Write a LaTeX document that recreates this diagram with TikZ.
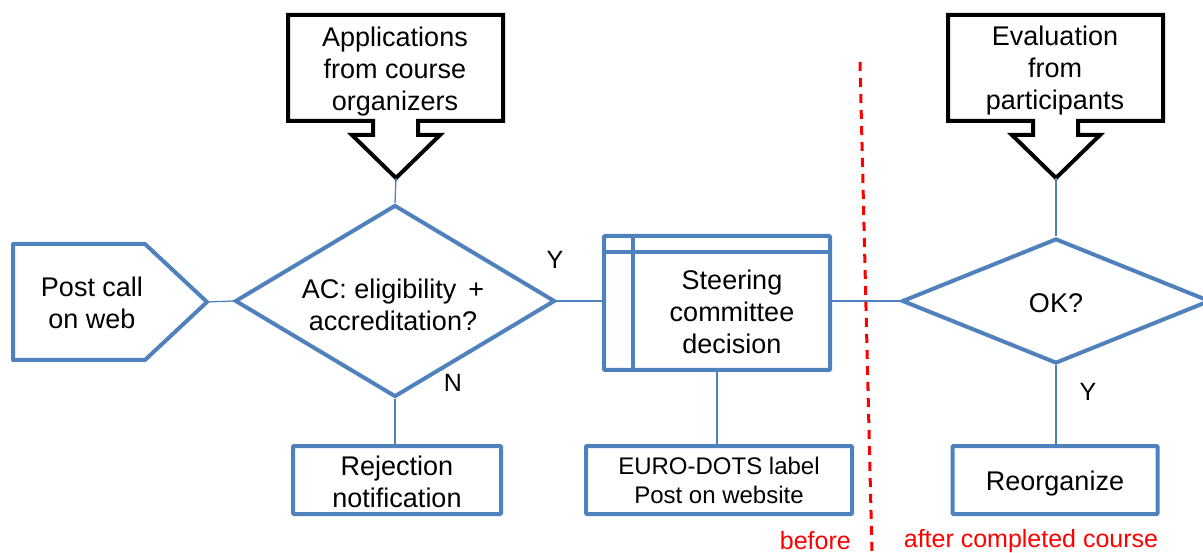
\documentclass[tikz,border=0pt]{standalone}
\usepackage{fontspec}
\setmainfont{Liberation Sans}
\usetikzlibrary{shapes.geometric}
\definecolor{flowblue}{HTML}{4F81BD}
\definecolor{cutred}{HTML}{FF0000}

\begin{document}
\begin{tikzpicture}[x=1pt,y=-1pt,
  every node/.style={font=\fontsize{27}{32}\selectfont, align=center, inner sep=0pt},
  shapeline/.style={draw=flowblue, line width=4pt},
  procbox/.style={shapeline, rectangle, rounded corners=1pt},
  decision/.style={shapeline, diamond},
  flow/.style={draw=flowblue, line width=1.3pt},
  inputline/.style={draw=black, line width=4pt, line join=miter},
  cutline/.style={draw=cutred, line width=3pt, dash pattern=on 9pt off 7pt},
  cutlabel/.style={text=cutred, font=\fontsize{25}{30}\selectfont},
  branch/.style={font=\fontsize{25}{30}\selectfont},
  smalltext/.style={font=\fontsize{24}{29}\selectfont}
]
\clip (0,0) rectangle (1203,553);

% input arrows (black callouts)
\draw[inputline] (288,15) -- (503,15) -- (503,121) -- (418,121) -- (418,135)
  -- (440,135) -- (396,178) -- (352,135) -- (373,135) -- (373,121)
  -- (288,121) -- cycle;
\node (apps) at (395,72) {Applications\\from course\\organizers};
\coordinate (appstip) at (396,178);

\begin{scope}[xshift=660pt]
\draw[inputline] (288,15) -- (503,15) -- (503,121) -- (418,121) -- (418,135)
  -- (440,135) -- (396,178) -- (352,135) -- (373,135) -- (373,121)
  -- (288,121) -- cycle;
\end{scope}
\node (evaltext) at (1055,71) {Evaluation\\from\\participants};
\coordinate (evaltip) at (1056,178);

% start: post call
\draw[shapeline, line join=round] (13,244) -- (145,244) -- (207,302) -- (145,360) -- (13,360) -- cycle;
\node (post) at (92,303) {Post call\\on web};
\coordinate (posttip) at (207,302);

% eligibility decision
\node[decision, minimum width=320, minimum height=192] (ac) at (395,301) {};
\node (acq) at (393,305) {AC: eligibility \,+\\accreditation?};

% steering committee (predefined process)
\node[procbox, minimum width=226, minimum height=134] (steer) at (717,303) {};
\draw[shapeline] (633,236) -- (633,370);
\draw[shapeline] (604,252) -- (830,252);
\node (steertext) at (732,312) {Steering\\committee\\decision};

% outcome boxes
\node[procbox, minimum width=208, minimum height=68] (rej) at (397,480) {};
\node (rejtext) at (397,482) {Rejection\\notification};
\node[procbox, smalltext, minimum width=266, minimum height=68] (euro) at (719,480) {EURO-DOTS label\\Post on website};
\node[procbox, minimum width=205, minimum height=68] (reorg) at (1055,480) {};
\node (reorgtext) at (1055,484) {Reorganize};

% evaluation decision
\node[decision, minimum width=308, minimum height=125] (ok) at (1056,301) {};
\node (oktext) at (1056,303) {OK?};

% connectors
\draw[flow] (appstip) -- (ac.north);
\draw[flow] (posttip) -- (ac.west);
\draw[flow] (ac.east) -- (ac.east -| steer.west);
\draw[flow] (ok.west -| steer.east) -- (ok.west);
\draw[flow] (ac.south) -- (ac.south |- rej.north);
\draw[flow] (steer.south) -- (steer.south |- euro.north);
\draw[flow] (evaltip) -- (ok.north);
\draw[flow] (ok.south) -- (ok.south |- reorg.north);

% branch labels
\node[branch] (yes1) at (555,260) {Y};
\node[branch] (no1) at (453,383) {N};
\node[branch] (yes2) at (1088,392) {Y};

% before / after divider
\coordinate (cuttop) at (860,62);
\coordinate (cutbot) at (872,553);
\draw[cutline] (cuttop) -- (cutbot);
\node[cutlabel, anchor=east] (before) at (851,541) {before};
\node[cutlabel] (after) at (1031,541) {after completed course};
\end{tikzpicture}
\end{document}
